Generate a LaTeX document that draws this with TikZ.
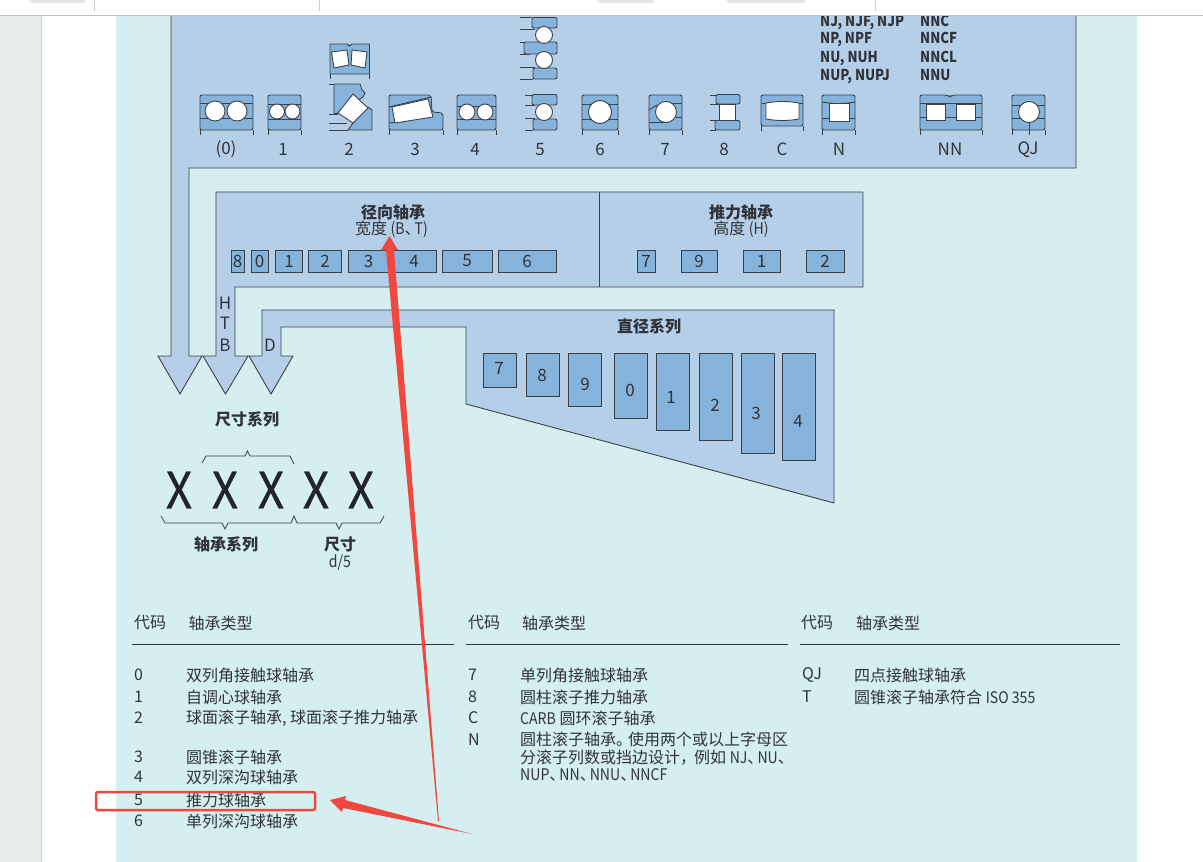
\documentclass[tikz,border=0pt]{standalone}
\usepackage{fontspec}
\setmainfont{Noto Sans CJK SC}
\newfontfamily\condfont{Noto Sans CJK SC}[FakeStretch=0.88]
\newfontfamily\xfont{Noto Sans CJK SC}[FakeStretch=0.92,FakeBold=0.6]
\usepackage{tikz}
\definecolor{pagegrey}{HTML}{E8ECEC}
\definecolor{pageteal}{HTML}{D5EEF0}
\definecolor{panelblue}{HTML}{B5CFE8}
\definecolor{boxblue}{HTML}{86B3DB}
\definecolor{linegrey}{HTML}{3C4148}
\definecolor{textdark}{HTML}{30343A}
\definecolor{markred}{HTML}{F0483E}
\newcommand{\lat}[1]{{\condfont #1}}
\newcommand{\dun}{、\kern-6pt}
\newcommand{\ringbox}[2]{
    \draw[ringpart, rounded corners=2pt] (#1, 130) -- (#1, 95) -- (#2, 95) -- (#2, 130) -- cycle;
    \draw[ringline] (#1, 135) -- (#1, 130);
    \draw[ringline] (#2, 135) -- (#2, 130);
}
\tikzset{
    panel/.style={draw=linegrey, fill=panelblue, line width=0.9pt},
    sizebox/.style={draw=linegrey, fill=boxblue, line width=0.9pt, inner sep=0pt, text=textdark, font=\fontsize{17}{17}\selectfont},
    ringpart/.style={draw=linegrey, fill=boxblue, line width=0.9pt},
    ringline/.style={draw=linegrey, line width=0.9pt},
    ball/.style={draw=linegrey, fill=white, line width=0.9pt},
    brace/.style={draw=linegrey, line width=0.8pt},
    tag/.style={text=textdark, inner sep=0pt, font=\fontsize{17}{17}\selectfont},
    subtag/.style={text=textdark, inner sep=0pt, font=\fontsize{16}{16}\selectfont},
    txt/.style={text=textdark, inner sep=0pt, anchor=west, font=\fontsize{16}{16}\selectfont},
    head/.style={text=textdark, inner sep=0pt, font=\fontsize{16}{16}\selectfont\bfseries},
    suffix/.style={text=textdark, inner sep=0pt, anchor=west, text height=11pt, text depth=0pt, font=\condfont\fontsize{15}{16}\selectfont\bfseries},
    bigx/.style={text=textdark!70!black, inner sep=0pt, font=\xfont\fontsize{50}{50}\selectfont},
    markup/.style={fill=markred, draw=none},
}
\begin{document}
\begin{tikzpicture}[x=1pt, y=-1pt]
    \useasboundingbox (0, 0) rectangle (1203, 862);
    % page
    \fill[white] (0, 0) rectangle (1203, 862);
    \fill[pagegrey] (0, 0) rectangle (41, 862);
    \draw[black!20] (41.5, 0) -- (41.5, 862);
    \fill[pageteal] (116, 0) rectangle (1137, 862);
    % panels and arrows
    \draw[panel] (171, 0) -- (1076, 0) -- (1076, 168) -- (189, 168) -- (189, 356) -- (202, 356)
        -- (180, 394) -- (158, 356) -- (171, 356) -- cycle;
    \draw[panel] (216, 192) -- (863, 192) -- (863, 287) -- (235, 287) -- (235, 356) -- (248, 356)
        -- (225.5, 394) -- (203, 356) -- (216, 356) -- cycle;
    \draw[panel] (262, 310) -- (834, 310) -- (834, 503) -- (466, 404) -- (466, 327) -- (281, 327)
        -- (281, 356) -- (293, 356) -- (271, 394) -- (249, 356) -- (262, 356) -- cycle;
    \draw[panel] (599, 192) -- (599, 287);
    % row of bearings
    \ringbox{200}{253}
    \draw[ringline] (200, 103) -- (253, 103);
    \draw[ringline] (200, 118) -- (253, 118);
    \draw[ball] (215, 111) circle [radius=10];
    \draw[ball] (237, 111) circle [radius=10];
    \ringbox{268}{301}
    \draw[ringline] (268, 104) -- (301, 104);
    \draw[ringline] (268, 119) -- (301, 119);
    \draw[ball] (277, 111.5) circle [radius=7.5];
    \draw[ball] (292.5, 111.5) circle [radius=7.5];
    % spherical roller, two views
    \draw[ringpart] (330, 74) -- (330, 44) -- (347, 44) -- (349.5, 46) -- (352, 44) -- (369.5, 44)
        -- (369.5, 74) -- cycle;
    \draw[ringline] (330, 79) -- (330, 74);
    \draw[ringline] (369.5, 79) -- (369.5, 74);
    \draw[ball] (331.5, 52) -- (347, 50) -- (349, 65) -- (334, 68) -- cycle;
    \draw[ball] (352, 50) -- (367, 52) -- (365, 68) -- (351, 65) -- cycle;
    \draw[ringpart] (334, 84) -- (360, 84) -- (362, 90) -- (365, 93) -- (363, 97) -- (338, 113) -- (334, 114) -- cycle;
    \draw[ringline] (329, 84.5) -- (334, 84.5);
    \draw[ringline] (329, 114) -- (338, 114);
    \draw[ringpart] (368, 107) -- (372, 110) -- (372, 130) -- (348, 130) -- (353, 123) -- cycle;
    \draw[ringline] (329, 123) -- (347, 123);
    \draw[ringline] (329, 130) -- (348, 130);
    \draw[ball] (353, 94) -- (368, 108) -- (353, 123) -- (338, 113) -- cycle;
    % tapered roller
    \draw[ringpart, rounded corners=2pt] (389, 130) -- (389, 95) -- (431, 95) -- (432, 112) -- (443, 113) -- (443, 130) -- cycle;
    \draw[ringline] (389, 135) -- (389, 130);
    \draw[ringline] (443, 135) -- (443, 130);
    \draw[ringline] (389, 123) -- (399, 122);
    \draw[ringline] (389, 107) -- (431, 97);
    \draw[ball] (392, 107) -- (428, 99) -- (433, 117) -- (395, 123) -- cycle;
    \ringbox{457}{496}
    \draw[ringline] (457, 106) -- (496, 106);
    \draw[ringline] (457, 119) -- (496, 119);
    \draw[ball] (467, 112) circle [radius=8];
    \draw[ball] (485, 112) circle [radius=8];
    % thrust ball, double and single
    \draw[ringline] (520, 17.5) -- (532, 17.5);
    \draw[ringline] (520, 29) -- (535, 29);
    \draw[ringline] (520, 42) -- (530, 42);
    \draw[ringline] (520, 54) -- (530, 54);
    \draw[ringline] (520, 67) -- (535, 67);
    \draw[ringline] (520, 79) -- (533, 79);
    \draw[ringpart, rounded corners=2pt] (532, 17.5) -- (557, 17.5) -- (557, 28) -- (532, 28) -- cycle;
    \draw[ringpart, rounded corners=2pt] (524, 42) -- (557, 42) -- (557, 54) -- (524, 54) -- cycle;
    \draw[ringpart, rounded corners=2pt] (533, 68) -- (557, 68) -- (557, 79) -- (533, 79) -- cycle;
    \draw[ball] (544, 35) circle [radius=8.5];
    \draw[ball] (544, 60) circle [radius=8.5];
    \draw[ringline] (525, 95) -- (532, 95);
    \draw[ringline] (525, 105) -- (535, 105);
    \draw[ringline] (525, 118.5) -- (535, 118.5);
    \draw[ringline] (525, 130) -- (533, 130);
    \draw[ringpart, rounded corners=2pt] (532, 94.5) -- (557, 94.5) -- (557, 105) -- (532, 105) -- cycle;
    \draw[ringpart, rounded corners=2pt] (533, 119) -- (557, 119) -- (557, 130) -- (533, 130) -- cycle;
    \draw[ball] (544, 112) circle [radius=8.5];
    \ringbox{582}{618}
    \draw[ringline] (582, 104) -- (618, 104);
    \draw[ringline] (582, 119) -- (618, 119);
    \draw[ball] (600, 112) circle [radius=11.5];
    \ringbox{649}{682}
    \draw[ringline] (649, 110) -- (657, 105);
    \draw[ringline] (649, 122) -- (668, 122);
    \draw[ringline] (672, 103) -- (682, 103);
    \draw[ringline] (676, 117) -- (682, 117);
    \draw[ball] (666, 112) circle [radius=10.5];
    % thrust roller
    \draw[ringline] (710, 95) -- (717, 95);
    \draw[ringline] (710, 104) -- (720, 104);
    \draw[ringline] (710, 120) -- (716, 120);
    \draw[ringline] (710, 130) -- (716, 130);
    \draw[ringpart, rounded corners=2pt] (716, 94.5) -- (740, 94.5) -- (740, 104) -- (716, 104) -- cycle;
    \draw[ringpart, rounded corners=2pt] (715, 120.5) -- (740, 120.5) -- (740, 130) -- (715, 130) -- cycle;
    \draw[ball] (719.5, 104.5) rectangle (735, 120.5);
    % CARB
    \draw[ringpart, rounded corners=2pt] (761, 126) -- (761, 95) -- (803, 95) -- (803, 126) -- cycle;
    \draw[ringline] (761, 131) -- (761, 126);
    \draw[ringline] (803, 131) -- (803, 126);
    \draw[ball] (766, 103) .. controls (777, 101) and (788, 101) .. (799, 103) -- (799, 119)
        .. controls (788, 121) and (777, 121) .. (766, 119) -- cycle;
    \draw[ringline] (762, 103) -- (766, 103);
    \draw[ringline] (799, 103) -- (803, 103);
    % cylindrical
    \ringbox{822}{855}
    \draw[ringline] (822, 102) .. controls (833, 104) and (844, 104) .. (855, 102);
    \draw[ringline] (822, 118) -- (829, 118);
    \draw[ringline] (849, 118) -- (855, 118);
    \draw[ball] (829, 103) rectangle (849, 121);
    \draw[ringpart, rounded corners=2pt] (920, 130) -- (920, 95) -- (947, 95) -- (950, 97) -- (953, 95) -- (982, 95) -- (982, 130) -- cycle;
    \draw[ringline] (920, 135) -- (920, 130);
    \draw[ringline] (982, 135) -- (982, 130);
    \draw[ringline] (920, 103) -- (982, 103);
    \draw[ringline] (920, 117) -- (982, 117);
    \draw[ball] (926, 104) rectangle (945, 120);
    \draw[ball] (956, 104) rectangle (975, 120);
    \ringbox{1012}{1045}
    \draw[ringline] (1012, 105) -- (1045, 105);
    \draw[ringline] (1012, 118) -- (1045, 118);
    \draw[ringline] (1029, 122) -- (1029, 135);
    \draw[ball] (1029, 112) circle [radius=10.5];
    % type suffixes
    \node (njline) at (820, 21) [suffix] {NJ, NJF, NJP};
    \node (npline) at (820, 38) [suffix] {NP, NPF};
    \node (nuline) at (820, 57) [suffix] {NU, NUH};
    \node (nupline) at (820, 75) [suffix] {NUP, NUPJ};
    \node (nncline) at (920, 21) [suffix] {NNC};
    \node (nncfline) at (920, 38) [suffix] {NNCF};
    \node (nnclline) at (920, 57) [suffix] {NNCL};
    \node (nnuline) at (920, 75) [suffix] {NNU};
    % bearing codes
    \node (typezero) at (226, 149.5) [tag] {(0)};
    \node (typeone) at (283, 149.5) [tag] {1};
    \node (typetwo) at (349, 149.5) [tag] {2};
    \node (typethree) at (415, 149.5) [tag] {3};
    \node (typefour) at (475, 149.5) [tag] {4};
    \node (typefive) at (540, 149.5) [tag] {5};
    \node (typesix) at (600, 149.5) [tag] {6};
    \node (typeseven) at (665, 149.5) [tag] {7};
    \node (typeeight) at (724, 149.5) [tag] {8};
    \node (typec) at (782, 149.5) [tag] {C};
    \node (typen) at (839, 149.5) [tag] {N};
    \node (typenn) at (950, 149.5) [tag] {NN};
    \node (typeqj) at (1028, 149.5) [tag] {QJ};
    % width and height series
    \node (radialtitle) at (393, 212) [head] {径向轴承};
    \node (radialsub) at (391.5, 229) [subtag] {宽度 \lat{(B}\dun\lat{T)}};
    \node (thrusttitle) at (741, 212) [head] {推力轴承};
    \node (thrustsub) at (741, 229) [subtag] {高度 \lat{(H)}};
    \node (width8) at (237.5, 261) [sizebox, minimum width=13, minimum height=22] {8};
    \node (width0) at (259.5, 261) [sizebox, minimum width=17, minimum height=22] {0};
    \node (width1) at (289, 261) [sizebox, minimum width=27, minimum height=22] {1};
    \node (width2) at (325, 261) [sizebox, minimum width=33, minimum height=22] {2};
    \node (width3) at (368.5, 261) [sizebox, minimum width=41, minimum height=22] {3};
    \node (width4) at (414, 261) [sizebox, minimum width=44, minimum height=22] {4};
    \node (width5) at (467, 261) [sizebox, minimum width=50, minimum height=22] {5};
    \node (width6) at (527, 261) [sizebox, minimum width=58, minimum height=22] {6};
    \node (height7) at (646, 261) [sizebox, minimum width=18, minimum height=22] {7};
    \node (height9) at (699, 261) [sizebox, minimum width=36, minimum height=22] {9};
    \node (height1) at (761.5, 261) [sizebox, minimum width=37, minimum height=22] {1};
    \node (height2) at (825, 261) [sizebox, minimum width=38, minimum height=22] {2};
    \node (letterh) at (225, 303) [tag] {H};
    \node (lettert) at (225, 323) [tag] {T};
    \node (letterb) at (225, 345) [tag] {B};
    \node (letterd) at (270, 345) [tag] {D};
    % diameter series
    \node (diamtitle) at (649, 326) [head] {直径系列};
    \node (diam7) at (499.5, 370) [sizebox, minimum width=33, minimum height=34] {};
    \node (diam8) at (542.5, 374.5) [sizebox, minimum width=33, minimum height=43] {};
    \node (diam9) at (584.5, 379.5) [sizebox, minimum width=33, minimum height=53] {};
    \node (diam0) at (630.5, 385.5) [sizebox, minimum width=33, minimum height=65] {};
    \node (diam1) at (672.5, 391.5) [sizebox, minimum width=33, minimum height=77] {};
    \node (diam2) at (715.5, 396.5) [sizebox, minimum width=33, minimum height=87] {};
    \node (diam3) at (757.5, 403) [sizebox, minimum width=33, minimum height=100] {};
    \node (diam4) at (798.5, 406.5) [sizebox, minimum width=33, minimum height=107] {};
    \node (digit7) at (499, 368) [tag] {7};
    \node (digit8) at (542, 375) [tag] {8};
    \node (digit9) at (585, 384) [tag] {9};
    \node (digit0) at (630, 390) [tag] {0};
    \node (digit1) at (671, 397) [tag] {1};
    \node (digit2) at (715, 405) [tag] {2};
    \node (digit3) at (756, 413) [tag] {3};
    \node (digit4) at (798, 421) [tag] {4};
    % designation
    \node (seriestitle) at (247, 419.5) [head] {尺寸系列};
    \node (xone) at (179, 490) [bigx] {X};
    \node (xtwo) at (225, 490) [bigx] {X};
    \node (xthree) at (271, 490) [bigx] {X};
    \node (xfour) at (316, 490) [bigx] {X};
    \node (xfive) at (361, 490) [bigx] {X};
    \draw[brace] (202, 463) -- (206, 456) -- (245, 456) -- (247.5, 451) -- (250, 456) -- (290, 456) -- (294, 464);
    \draw[brace] (161, 516) -- (165, 523) -- (222, 523) -- (225, 529) -- (228, 523) -- (291, 523) -- (294, 516)
        -- (297, 523) -- (336, 523) -- (339, 529) -- (342, 523) -- (380, 523) -- (384, 516);
    \node (typeseries) at (226, 544) [head] {轴承系列};
    \node (boresize) at (340, 544) [head] {尺寸};
    \node (boresub) at (340, 562.5) [subtag] {\lat{d/5}};
    % code tables
    \node (codeone) at (134, 623) [txt] {代码};
    \node (kindone) at (188.5, 623) [txt] {轴承类型};
    \node (codetwo) at (468, 623) [txt] {代码};
    \node (kindtwo) at (522, 623) [txt] {轴承类型};
    \node (codethree) at (801, 623) [txt] {代码};
    \node (kindthree) at (856, 623) [txt] {轴承类型};
    \draw[textdark, line width=1.8pt] (132, 644.5) -- (454, 644.5);
    \draw[textdark, line width=1.8pt] (466, 644.5) -- (788, 644.5);
    \draw[textdark, line width=1.8pt] (800, 644.5) -- (1120, 644.5);
    \node (rowzero) at (134, 675) [txt] {0};
    \node (namezero) at (186, 675) [txt] {双列角接触球轴承};
    \node (rowone) at (134, 697) [txt] {1};
    \node (nameone) at (186, 697) [txt] {自调心球轴承};
    \node (rowtwo) at (134, 718) [txt] {2};
    \node (nametwo) at (186, 718) [txt] {球面滚子轴承, 球面滚子推力轴承};
    \node (rowthree) at (134, 757) [txt] {3};
    \node (namethree) at (186, 757) [txt] {圆锥滚子轴承};
    \node (rowfour) at (134, 777) [txt] {4};
    \node (namefour) at (186, 777) [txt] {双列深沟球轴承};
    \node (rowfive) at (134, 800) [txt] {5};
    \node (namefive) at (186, 800) [txt] {推力球轴承};
    \node (rowsix) at (134, 821) [txt] {6};
    \node (namesix) at (186, 821) [txt] {单列深沟球轴承};
    \node (rowseven) at (468, 675) [txt] {7};
    \node (nameseven) at (520, 675) [txt] {单列角接触球轴承};
    \node (roweight) at (468, 697) [txt] {8};
    \node (nameeight) at (520, 697) [txt] {圆柱滚子推力轴承};
    \node (rowc) at (468, 718) [txt] {C};
    \node (namec) at (520, 718) [txt] {\lat{CARB} 圆环滚子轴承};
    \node (rown) at (468, 739.5) [txt] {N};
    \node (namen) at (520, 739.5) [txt] {圆柱滚子轴承。\kern-4pt 使用两个或以上字母区};
    \node (namenb) at (520, 757.5) [txt] {分滚子列数或挡边设计，\kern-2pt 例如 \lat{NJ}\dun\lat{NU}\dun};
    \node (namenc) at (520, 775) [txt] {\lat{NUP}\dun\lat{NN}\dun\lat{NNU}\dun\lat{NNCF}};
    \node (rowqj) at (802, 675) [txt] {QJ};
    \node (nameqj) at (854, 675) [txt] {四点接触球轴承};
    \node (rowt) at (802, 697) [txt] {T};
    \node (namet) at (854, 697) [txt] {圆锥滚子轴承符合 \lat{ISO 355}};
    % red marks
    \draw[markred, line width=2.5pt, rounded corners=2pt] (96, 792) rectangle (315, 810);
    \fill[markup] (389.5, 236) -- (398, 250) -- (394, 250) -- (439, 821) -- (438, 821) -- (386, 250) -- (381, 250) -- cycle;
    \fill[markup] (330, 800) -- (346, 796) -- (345, 800) -- (472, 834) -- (343, 808) -- (342, 812) -- cycle;
    % browser strip
    \fill[white] (0, 0) rectangle (1203, 15);
    \draw[black!25, line width=1pt] (0, 15.5) -- (1203, 15.5);
    \fill[black!10, rounded corners=2pt] (30, -3) rectangle (85, 3);
    \fill[black!10, rounded corners=2pt] (598, -3) rectangle (654, 3);
    \fill[black!10, rounded corners=2pt] (727, -3) rectangle (805, 3);
    \draw[black!20] (94, 0) -- (94, 11);
    \draw[black!20] (319, 0) -- (319, 11);
    \draw[black!20] (875, 0) -- (875, 11);
\end{tikzpicture}
\end{document}
